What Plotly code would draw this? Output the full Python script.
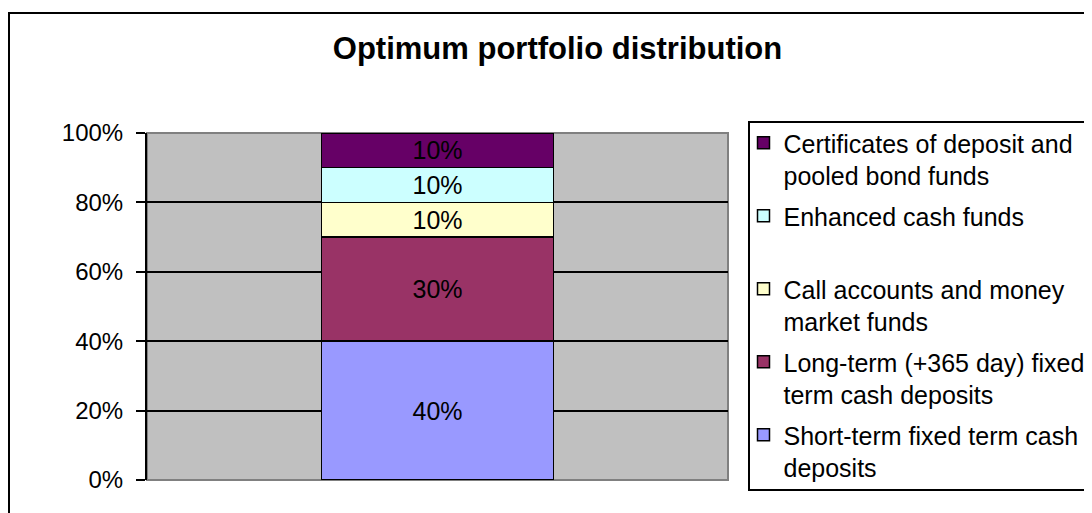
import plotly.graph_objects as go

# ---- data ----
categories = [""]
series_names = [
    "Short-term fixed term cash deposits",
    "Long-term (+365 day) fixed term cash deposits",
    "Call accounts and money market funds",
    "Enhanced cash funds",
    "Certificates of deposit and pooled bond funds",
]
legend_labels = [
    "Short-term fixed term cash<br>deposits",
    "Long-term (+365 day) fixed<br>term cash deposits",
    "Call accounts and money<br>market funds",
    "Enhanced cash funds<br> ",
    "Certificates of deposit and<br>pooled bond funds",
]
shares = [0.40, 0.30, 0.10, 0.10, 0.10]
colors = ["#9999FF", "#993366", "#FFFFCC", "#CCFFFF", "#660066"]
y_ticks = [0, 0.2, 0.4, 0.6, 0.8, 1.0]

# ---- layout geometry (screen pixels; page body has an 8px margin) ----
OFF = 8
W, H = 1150, 513 - OFF          # wider than the window: chart frame runs off the right edge
PL, PR, PT, PB = 147 - OFF, 728 - OFF, 133 - OFF, 480 - OFF
pw, ph = PR - PL, PB - PT


def px_x(sx):
    return (sx - OFF - PL) / pw


def px_y(sy):
    return (PB - (sy - OFF)) / ph


FONT = "Arial, Liberation Sans, sans-serif"

fig = go.Figure()
n = len(series_names)
for i, (name, lab, v, c) in enumerate(zip(series_names, legend_labels, shares, colors)):
    fig.add_trace(go.Bar(
        x=categories, y=[v], name=lab, legendgroup=name,
        legendrank=n - i,
        marker=dict(color=c, line=dict(color="black", width=1.5)),
        width=0.4,
        texttemplate="%{y:.0%}",
        textposition="inside",
        insidetextanchor="middle",
        textangle=0,
        constraintext="none",
        textfont=dict(family=FONT, size=25, color="black"),
        hovertemplate=name + ": %{y:.0%}<extra></extra>",
    ))

fig.update_layout(
    width=W, height=H,
    barmode="stack",
    paper_bgcolor="white",
    plot_bgcolor="#C0C0C0",
    margin=dict(l=PL, r=W - PR, t=PT, b=H - PB, pad=0),
    font=dict(family=FONT, size=24, color="black"),
    title=dict(
        text="<b>Optimum portfolio distribution</b>",
        font=dict(family=FONT, size=31, color="black"),
        xref="container", x=(557.5 - OFF) / W, xanchor="center",
        yref="container", y=1 - (48 - OFF) / H, yanchor="middle",
    ),
    xaxis=dict(range=[-0.5, 0.5], showticklabels=False, showgrid=False,
               zeroline=False, ticks="", showline=False, fixedrange=True),
    yaxis=dict(range=[0, 1], tickvals=y_ticks, tickformat=".0%",
               showgrid=True, gridcolor="black", gridwidth=2,
               zeroline=False, showline=True, linecolor="black", linewidth=2,
               ticks="outside", ticklen=9, tickcolor="black", tickwidth=2,
               ticklabelstandoff=8,
               tickfont=dict(family=FONT, size=24, color="black")),
    legend=dict(
        x=px_x(743.5), xanchor="left",
        y=px_y(120), yanchor="top",
        traceorder="grouped",
        tracegroupgap=5,
        valign="top",
        maxheight=480,
        bgcolor="rgba(0,0,0,0)",
        borderwidth=0,
        font=dict(family=FONT, size=25, color="black"),
    ),
    showlegend=True,
    shapes=[
        # plot area border (grey)
        dict(type="rect", xref="paper", yref="paper", x0=0, x1=1, y0=0, y1=1,
             line=dict(color="#808080", width=2), layer="between"),
        # legend frame
        dict(type="rect", xref="paper", yref="paper",
             x0=px_x(749), x1=px_x(1120), y0=px_y(490), y1=px_y(122),
             line=dict(color="black", width=2)),
        # chart frame
        dict(type="rect", xref="paper", yref="paper",
             x0=px_x(9), x1=px_x(1130), y0=px_y(540), y1=px_y(13),
             line=dict(color="black", width=2)),
    ],
)

fig.write_html("out.html")
